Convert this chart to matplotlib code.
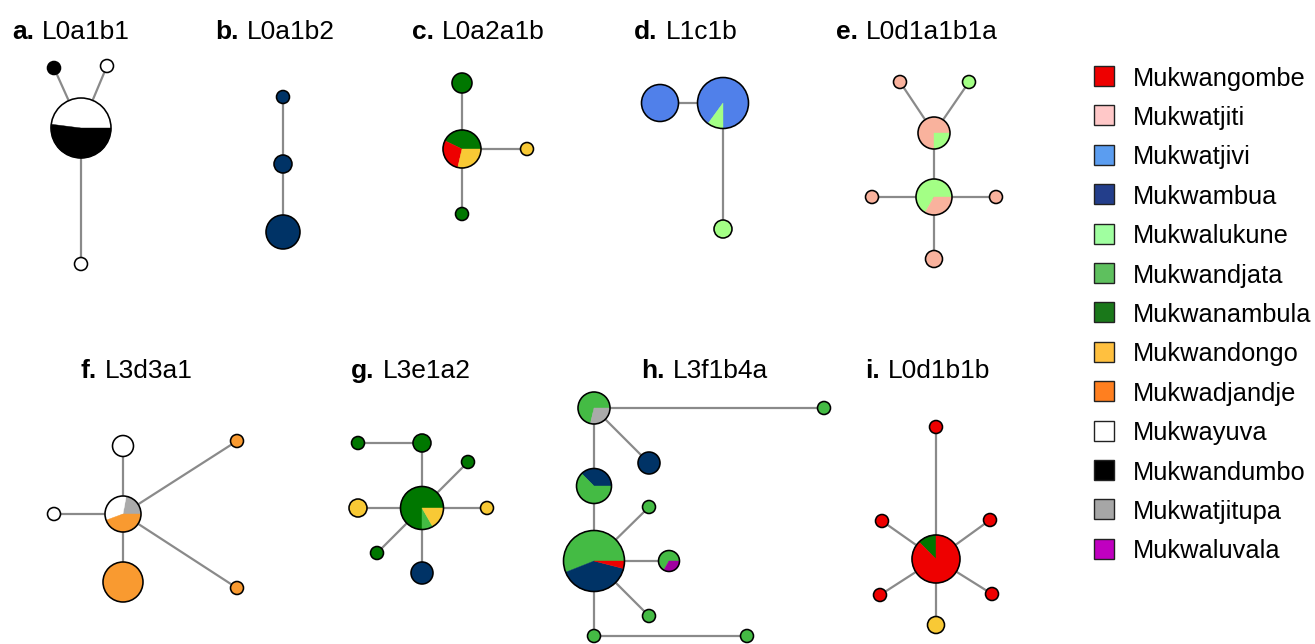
"""Haplotype networks of nine mtDNA sub-haplogroups, coloured by clan."""

import matplotlib

matplotlib.use("Agg")
import matplotlib.pyplot as plt
from matplotlib.patches import Circle, Rectangle, Wedge

plt.rcParams["font.family"] = ["Liberation Sans", "DejaVu Sans"]

# clans, in legend order
CLANS = [
    "Mukwangombe", "Mukwatjiti", "Mukwatjivi", "Mukwambua", "Mukwalukune",
    "Mukwandjata", "Mukwanambula", "Mukwandongo", "Mukwadjandje", "Mukwayuva",
    "Mukwandumbo", "Mukwatjitupa", "Mukwaluvala",
]
LEGEND_COLORS = [
    "#EE0000", "#FFC8C8", "#5B9DF0", "#233E8B", "#A0FFA0", "#5EC05E", "#1A781A",
    "#FFC03F", "#FF7F1F", "#FFFFFF", "#000000", "#A6A6A6", "#C000C0",
]
NODE_COLORS = [
    "#EE0000", "#F9B29D", "#5080EA", "#003366", "#A3FF85", "#44BB44", "#007700",
    "#F8C935", "#F99A30", "#FFFFFF", "#000000", "#AAAAAA", "#A000A0",
]

PANEL_LETTERS = ["a.", "b.", "c.", "d.", "e.", "f.", "g.", "h.", "i."]
PANEL_NAMES = ["L0a1b1", "L0a1b2", "L0a2a1b", "L1c1b", "L0d1a1b1a",
               "L3d3a1", "L3e1a2", "L3f1b4a", "L0d1b1b"]

# haplotype composition per node (clan -> count), one list per panel
A_MIX = [{"Mukwayuva": 12, "Mukwandumbo": 13}, {"Mukwandumbo": 1},
         {"Mukwayuva": 1}, {"Mukwayuva": 1}]
B_MIX = [{"Mukwambua": 1}, {"Mukwambua": 2}, {"Mukwambua": 6}]
C_MIX = [{"Mukwanambula": 3, "Mukwangombe": 2, "Mukwandongo": 2},
         {"Mukwanambula": 2}, {"Mukwandongo": 1}, {"Mukwanambula": 1}]
D_MIX = [{"Mukwatjivi": 5}, {"Mukwatjivi": 9, "Mukwalukune": 1},
         {"Mukwalukune": 1}]
E_MIX = [{"Mukwatjiti": 3, "Mukwalukune": 1}, {"Mukwalukune": 2, "Mukwatjiti": 1},
         {"Mukwatjiti": 1}, {"Mukwalukune": 1}, {"Mukwatjiti": 1},
         {"Mukwatjiti": 1}, {"Mukwatjiti": 1}]
F_MIX = [{"Mukwatjitupa": 2, "Mukwayuva": 3, "Mukwadjandje": 4},
         {"Mukwayuva": 2}, {"Mukwayuva": 1}, {"Mukwadjandje": 6},
         {"Mukwadjandje": 1}, {"Mukwadjandje": 1}]
G_MIX = [{"Mukwanambula": 9, "Mukwandjata": 1, "Mukwandongo": 2},
         {"Mukwanambula": 2}, {"Mukwanambula": 1}, {"Mukwanambula": 1},
         {"Mukwandongo": 2}, {"Mukwandongo": 1}, {"Mukwanambula": 1},
         {"Mukwambua": 3}]
H_MIX = [{"Mukwandjata": 5, "Mukwatjitupa": 2}, {"Mukwambua": 3, "Mukwandjata": 5},
         {"Mukwandjata": 14, "Mukwambua": 10, "Mukwangombe": 1},
         {"Mukwandjata": 1}, {"Mukwambua": 3}, {"Mukwandjata": 1},
         {"Mukwandjata": 2, "Mukwaluvala": 1}, {"Mukwandjata": 1},
         {"Mukwandjata": 1}, {"Mukwandjata": 1}]
I_MIX = [{"Mukwanambula": 1, "Mukwangombe": 7}, {"Mukwangombe": 1},
         {"Mukwangombe": 1}, {"Mukwangombe": 1}, {"Mukwangombe": 1},
         {"Mukwangombe": 1}, {"Mukwandongo": 1}]

# network links (node index pairs)
A_EDGES = [(0, 1), (0, 2), (0, 3)]
B_EDGES = [(0, 1), (1, 2)]
C_EDGES = [(0, 1), (0, 2), (0, 3)]
D_EDGES = [(0, 1), (1, 2)]
E_EDGES = [(0, 2), (0, 3), (0, 1), (1, 4), (1, 5), (1, 6)]
F_EDGES = [(0, 1), (0, 2), (0, 3), (0, 4), (0, 5)]
G_EDGES = [(0, 1), (1, 2), (0, 3), (0, 4), (0, 5), (0, 6), (0, 7)]
H_EDGES = [(0, 3), (0, 4), (0, 1), (1, 2), (2, 5), (2, 6), (2, 7), (2, 8), (8, 9)]
I_EDGES = [(0, 1), (0, 2), (0, 3), (0, 4), (0, 5), (0, 6)]

# layout (figure pixels), node radii and pie start angles
A_XY = [(81, 128), (54, 68), (107, 66), (81, 264)]
B_XY = [(283, 97), (283, 164), (283, 232)]
C_XY = [(462, 149), (462, 83), (527, 149), (462, 214)]
D_XY = [(660, 103), (723, 103), (723, 229)]
E_XY = [(934, 133), (934, 197), (900, 82), (969, 82), (872, 197), (996, 197), (934, 259)]
F_XY = [(123, 514), (123, 446), (54, 514), (123, 582), (237, 441), (237, 588)]
G_XY = [(422, 508), (422, 443), (358, 443), (468, 462), (358, 508), (487, 508),
        (377, 553), (422, 573)]
H_XY = [(594, 408), (594, 486), (594, 561), (824, 408), (649, 463), (649, 507),
        (669, 561), (649, 616), (594, 636), (747, 636)]
I_XY = [(936, 559), (936, 427), (882, 521), (990, 520), (880, 595), (992, 594), (936, 625)]

A_R = [30, 6.5, 6.5, 6.5]
B_R = [6.5, 9, 17]
C_R = [19, 10, 6.5, 6.5]
D_R = [18.5, 25.5, 9]
E_R = [16, 18, 6.5, 6.5, 6.5, 6.5, 8.5]
F_R = [18, 10.5, 6.5, 20, 6.5, 6.5]
G_R = [21.5, 9, 6.5, 6.5, 9, 6.5, 6.5, 11]
H_R = [16, 17.5, 30.5, 6.5, 11, 6.5, 10.5, 6.5, 6.5, 6.5]
I_R = [24, 6.5, 6.5, 6.5, 6.5, 6.5, 8.5]

START = [0, 0, 0, 270, 0, 0, 0, 0, 90]
TITLE_XY = [(12, 39), (215, 39), (412, 39), (634, 39), (836, 39),
            (81, 378), (351, 378), (641, 378), (865, 378)]

PANELS = [
    (A_MIX, A_EDGES, A_XY, A_R), (B_MIX, B_EDGES, B_XY, B_R),
    (C_MIX, C_EDGES, C_XY, C_R), (D_MIX, D_EDGES, D_XY, D_R),
    (E_MIX, E_EDGES, E_XY, E_R), (F_MIX, F_EDGES, F_XY, F_R),
    (G_MIX, G_EDGES, G_XY, G_R), (H_MIX, H_EDGES, H_XY, H_R),
    (I_MIX, I_EDGES, I_XY, I_R),
]

W, H = 1315, 644
EDGE_COLOR = "#8A8A8A"
TITLE_SIZE = 19


def draw_node(ax, xy, r, mix, start):
    """Pie node; angles are screen counter-clockwise (y axis is inverted)."""
    total = sum(mix.values())
    a = start
    for clan, n in mix.items():
        span = 360.0 * n / total
        col = NODE_COLORS[CLANS.index(clan)]
        if len(mix) == 1:
            ax.add_patch(Circle(xy, r, facecolor=col, edgecolor="none", zorder=3))
        else:
            ax.add_patch(Wedge(xy, r, -(a + span), -a, facecolor=col,
                               edgecolor=col, linewidth=0.3, zorder=3))
        a += span
    ax.add_patch(Circle(xy, r, facecolor="none", edgecolor="black",
                        linewidth=1.15, zorder=4))


def panel_title(fig, ax, xy, letter, name):
    t = ax.text(xy[0], xy[1], letter, fontsize=TITLE_SIZE, fontweight="bold",
                va="baseline", ha="left")
    bb = t.get_window_extent(fig.canvas.get_renderer())
    x_end = ax.transData.inverted().transform((bb.x1, bb.y0))[0]
    ax.text(x_end + 8, xy[1], name, fontsize=TITLE_SIZE, va="baseline", ha="left")


def main() -> None:
    fig = plt.figure(figsize=(W / 100, H / 100), dpi=100)
    ax = fig.add_axes([0, 0, 1, 1])
    ax.set_xlim(0, W)
    ax.set_ylim(H, 0)
    ax.set_aspect("equal")
    ax.axis("off")

    for k, (mix, edges, xy, radii) in enumerate(PANELS):
        for i, j in edges:
            ax.plot([xy[i][0], xy[j][0]], [xy[i][1], xy[j][1]],
                    color=EDGE_COLOR, linewidth=1.6, zorder=1,
                    solid_capstyle="butt")
        for p, r, m in zip(xy, radii, mix):
            draw_node(ax, p, r, m, START[k])
        panel_title(fig, ax, TITLE_XY[k], PANEL_LETTERS[k], PANEL_NAMES[k])

    # legend
    for i, (clan, col) in enumerate(zip(CLANS, LEGEND_COLORS)):
        y = 76 + i * 39.4
        ax.add_patch(Rectangle((1094, y - 10), 20, 20, facecolor=col,
                               edgecolor="#222222", linewidth=1.0))
        ax.text(1133, y, clan, fontsize=18.3, va="center_baseline", ha="left")

    fig.savefig("out.png", dpi=100, facecolor="white")


if __name__ == "__main__":
    main()
